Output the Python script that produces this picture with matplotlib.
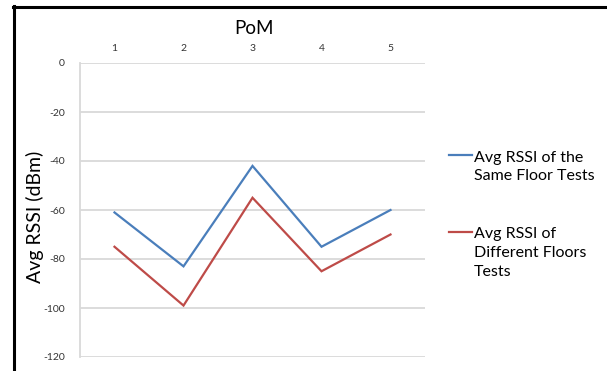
import matplotlib
matplotlib.use("Agg")
import matplotlib.pyplot as plt
from matplotlib.lines import Line2D

plt.rcParams["font.family"] = ["Lato", "DejaVu Sans"]

# Data
pom = ["1", "2", "3", "4", "5"]
same_floor = [-61, -83, -42, -75, -60]
diff_floor = [-75, -99, -55, -85, -70]
y_ticks = [0, -20, -40, -60, -80, -100, -120]

labels = ["Avg RSSI of the\nSame Floor Tests", "Avg RSSI of\nDifferent Floors\nTests"]
colors = ["#4A7EBB", "#BE4B48"]

W, H = 607, 371
fig = plt.figure(figsize=(W / 100, H / 100), dpi=100)
fig.patch.set_facecolor("white")

# plot area in pixel coordinates
left, right, top, bottom = 80, 425, 63, 357
ax = fig.add_axes([left / W, 1 - bottom / H, (right - left) / W, (bottom - top) / H])

x = list(range(len(pom)))
ax.plot(x, same_floor, color=colors[0], lw=1.6, solid_joinstyle="miter")
ax.plot(x, diff_floor, color=colors[1], lw=1.6, solid_joinstyle="miter")

ax.set_xlim(-0.5, len(pom) - 0.5)
ax.set_ylim(-120, 0)
ax.set_yticks(y_ticks)
ax.set_yticklabels([str(v) for v in y_ticks], fontsize=7.5, color="#333333")
ax.xaxis.tick_top()
ax.set_xticks(x)
ax.set_xticklabels(pom, fontsize=7.5, color="#333333")
ax.tick_params(axis="both", length=0)
ax.tick_params(axis="x", pad=7)
ax.tick_params(axis="y", pad=11)

ax.grid(axis="y", color="#D9D9D9", lw=1.3)
ax.set_axisbelow(True)
for side in ["top", "right", "bottom"]:
    ax.spines[side].set_visible(False)
ax.spines["left"].set_color("#D9D9D9")
ax.spines["left"].set_linewidth(1.3)

# axis titles
fig.text(254 / W, 1 - 28 / H, "PoM", fontsize=13.5, ha="center", va="center")
fig.text(35 / W, 1 - 217 / H, "Avg RSSI (dBm)", fontsize=14, rotation=90,
         ha="center", va="center")

# legend entries drawn to the right of the plot area
handle_y = [155, 232]
block_y = [167, 253]
for hy, by, lab, col in zip(handle_y, block_y, labels, colors):
    fig.add_artist(Line2D([449 / W, 472 / W], [1 - hy / H, 1 - hy / H], color=col,
                          lw=1.6, transform=fig.transFigure))
    fig.text(474 / W, 1 - by / H, lab, fontsize=11.5, va="center", ha="left",
             linespacing=1.45)

# outer frame lines (top and left)
fig.add_artist(Line2D([13 / W, 605 / W], [1 - 7 / H, 1 - 7 / H], color="black",
                      lw=2.2, transform=fig.transFigure))
fig.add_artist(Line2D([14 / W, 14 / W], [1 - 6 / H, 0], color="black",
                      lw=2.2, transform=fig.transFigure))

fig.savefig("out.png", dpi=100, facecolor="white")
